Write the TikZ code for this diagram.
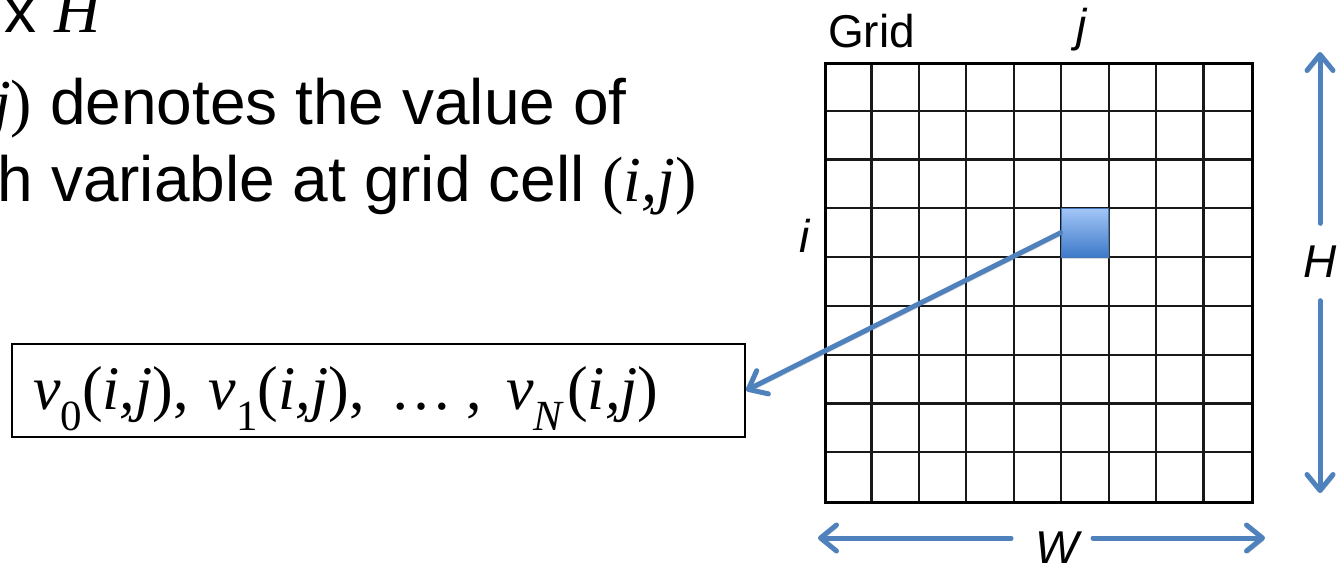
\documentclass[tikz,border=0pt]{standalone}
\usepackage{fontspec}
\setmainfont{Liberation Serif}
\setsansfont{Liberation Sans}
\usetikzlibrary{arrows.meta,shadows}
\definecolor{arrblue}{HTML}{4F81BD}
\definecolor{sqtop}{HTML}{A3C6F7}
\definecolor{sqbot}{HTML}{3D79C8}
\definecolor{sqedge}{HTML}{4477BB}
\newcommand{\vsub}[1]{\textit{v}\raisebox{-21pt}{\fontsize{43}{43}\selectfont #1}}
\newcommand{\cellij}{(\textit{i,j})}
\begin{document}
\begin{tikzpicture}[x=1pt,y=-1pt,
  bigtext/.style={font=\fontsize{64}{64}\selectfont\sffamily, inner sep=0pt, anchor=base west},
  lbl/.style={font=\fontsize{46}{46}\selectfont\sffamily, inner sep=0pt},
  shadowed/.style={preaction={draw=black, opacity=0.18, transform canvas={shift={(1.5pt,-2.5pt)}}}},
  arr/.style={draw=arrblue, line width=5pt, line cap=round, shadowed,
    -{Straight Barb[length=16pt,width=26pt,round]}},
  gridline/.style={line width=2.2pt, draw=black!90},
  cellsq/.style={draw=sqedge, line width=1.2pt, top color=sqtop, bottom color=sqbot,
    minimum width=47.4pt, minimum height=48.8pt, inner sep=0pt,
    drop shadow={opacity=0.3, shadow xshift=1pt, shadow yshift=-2pt}},
]
\useasboundingbox (0,0) rectangle (1339,564);

% text lines at top-left
\node[bigtext] (l1) at (4.5,33) {x {\rmfamily\itshape H}};
\node[bigtext] (l2) at (-7,125) {{\rmfamily\itshape j\/\upshape)} denotes the value of};
\node[bigtext] (l3) at (-2.5,202) {h variable at grid cell {\rmfamily(\itshape i,j\/\upshape)}};

% value box
\node[draw, line width=2pt, anchor=north west, inner xsep=21pt, inner ysep=0pt,
  text width=691pt, align=left, text height=65pt, text depth=28pt,
  font=\fontsize{62}{62}\selectfont\rmfamily] (box) at (11,343)
  {\vsub{0}\cellij,\kern20pt\vsub{1}\cellij,\kern26pt\textellipsis\kern14pt,\kern24pt\vsub{\textit{N}}\kern3pt\cellij};

% grid
\foreach \k in {1,...,8} {
  \draw[gridline] ({824+\k*47.444},62) -- ({824+\k*47.444},501);
  \draw[gridline] (824,{62+\k*48.778}) -- (1251,{62+\k*48.778});
}
\node[draw, line width=2.6pt, minimum width=427pt, minimum height=439pt,
  inner sep=0pt, anchor=north west] (grid) at (824,62) {};

% selected cell
\node[cellsq] (cell) at ({824+5.5*47.444},{62+3.5*48.778}) {};

% labels
\node[lbl, anchor=base west] (gridlbl) at (828,48) {Grid};
\node[lbl, anchor=base, font=\fontsize{46}{46}\selectfont\sffamily\itshape] (jlbl) at (1082,42) {j};
\node[lbl, anchor=base east, font=\fontsize{46}{46}\selectfont\sffamily\itshape] (ilbl) at (810,253) {i};

% H dimension arrow
\node[lbl, minimum height=77pt, minimum width=40pt, font=\fontsize{46}{46}\selectfont\sffamily\itshape] (Hl) at (1320,262) {H};
\coordinate (ht) at (1320,52);
\coordinate (hb) at (1320,493);
\draw[arr] (Hl.north) -- (ht);
\draw[arr] (Hl.south) -- (hb);

% W dimension arrow
\node[lbl, anchor=base, font=\fontsize{46}{46}\selectfont\sffamily\itshape] (Wl) at (1057,563) {W};
\coordinate (wl) at (818,538);
\coordinate (wr) at (1265,538);
\coordinate (wgl) at (1011,538);
\coordinate (wgr) at (1093,538);
\draw[arr] (wgl) -- (wl);
\draw[arr] (wgr) -- (wr);

% connector from cell to box
\draw[arr] (cell.west) -- (box.east);
\end{tikzpicture}
\end{document}
